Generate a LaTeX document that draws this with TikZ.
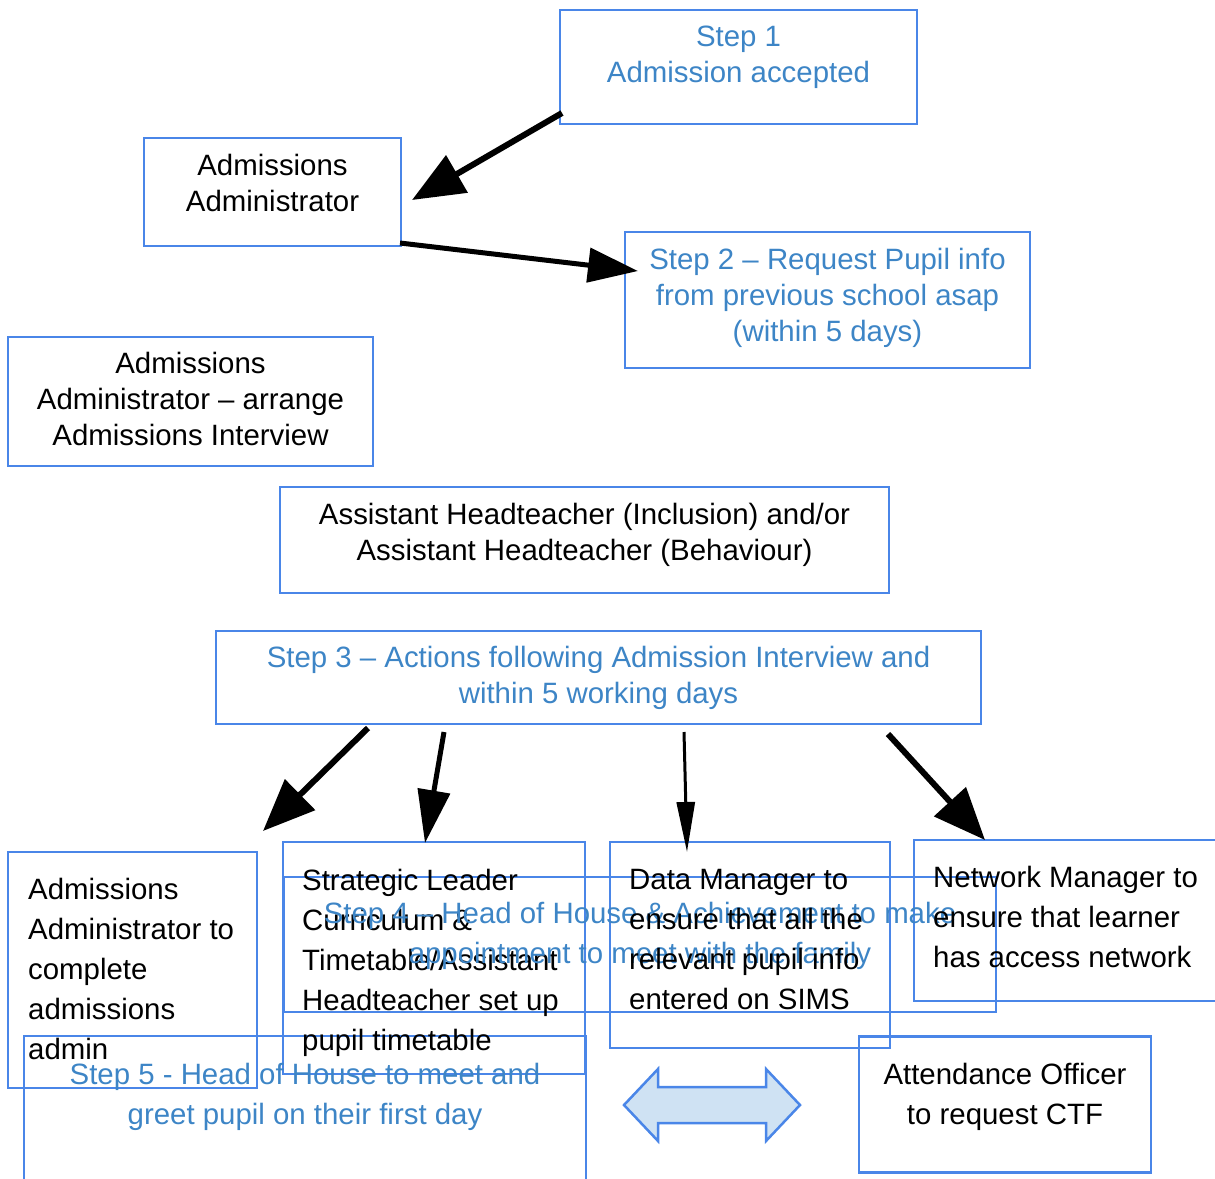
\documentclass[tikz,border=0pt]{standalone}
\usepackage{fontspec}
\setmainfont{Liberation Sans}
\usetikzlibrary{arrows.meta}
\definecolor{bordblue}{RGB}{74,134,232}
\definecolor{txtblue}{RGB}{61,133,198}
\definecolor{fillblue}{RGB}{207,226,243}
\begin{document}
\begin{tikzpicture}[x=1pt,y=-1pt,
  box/.style={draw=bordblue, line width=2.5pt, inner sep=0pt, outer sep=0pt},
  ctxt/.style={font=\fontsize{29.4}{36}\selectfont, inner sep=0pt, align=center, anchor=north},
  ltxt/.style={font=\fontsize{29.4}{40}\selectfont, inner sep=0pt, align=left, anchor=north west},
  wtxt/.style={font=\fontsize{29.4}{40}\selectfont, inner sep=0pt, align=center, anchor=north},
  arr/.style={line width=6pt, -{Triangle[length=52pt,width=42pt]}},
]
\useasboundingbox (0,0) rectangle (1215,1178);

% boxes
\node[box, minimum width=357pt, minimum height=114pt] (b1) at (738.5,67) {};
\node[box, minimum width=257pt, minimum height=108pt] (b2) at (272.5,192) {};
\node[box, minimum width=405pt, minimum height=136pt] (b3) at (827.5,300) {};
\node[box, minimum width=365pt, minimum height=129pt] (b4) at (190.5,401.5) {};
\node[box, minimum width=609pt, minimum height=106pt] (b5) at (584.5,540) {};
\node[box, minimum width=765pt, minimum height=93pt] (b6) at (598.5,677.5) {};
\node[box, minimum width=249pt, minimum height=236pt] (b7) at (132.5,970) {};
\node[box, minimum width=302pt, minimum height=232pt] (b8) at (434,958) {};
\node[box, minimum width=712pt, minimum height=135pt] (b9) at (640,944.5) {};
\node[box, minimum width=280pt, minimum height=206pt] (b10) at (750,945) {};
\node[box, minimum width=320pt, minimum height=161pt] (b11) at (1074,920.5) {};
\node[box, minimum width=562pt, minimum height=160pt] (b12) at (305,1116) {};
\node[box, minimum width=292pt, minimum height=136pt] (b13) at (1005,1104.5) {};

% texts
\node[ctxt, text=txtblue] (t1) at (738.5,26) {Step 1\\Admission accepted};
\node[ctxt] (t2) at (272.5,154) {Admissions\\Administrator};
\node[ctxt, text=txtblue] (t3) at (827.5,248) {Step 2 – Request Pupil info\\from previous school asap\\(within 5 days)};
\node[ctxt] (t4) at (190.5,352) {Admissions\\Administrator – arrange\\Admissions Interview};
\node[ctxt] (t5) at (584.5,503) {Assistant Headteacher (Inclusion) and/or\\Assistant Headteacher (Behaviour)};
\node[ctxt, text=txtblue] (t6) at (598.5,646) {Step 3 – Actions following Admission Interview and\\within 5 working days};
\node[ltxt] (t7) at (28,878) {Admissions\\Administrator to\\complete\\admissions\\admin};
\node[ltxt] (t8) at (302,869) {Strategic Leader\\Curriculum \&\\Timetable/Assistant\\Headteacher set up\\pupil timetable};
\node[wtxt, text=txtblue] (t9) at (640,902) {Step 4 – Head of House \& Achievement to make\\appointment to meet with the family};
\node[ltxt] (t10) at (629,869) {Data Manager to\\ensure that all the\\relevant pupil info\\entered on SIMS};
\node[ltxt] (t11) at (933,866) {Network Manager to\\ensure that learner\\has access network};
\node[wtxt, text=txtblue] (t12) at (305,1063) {Step 5 - Head of House to meet and\\greet pupil on their first day};
\node[wtxt] (t13) at (1005,1063) {Attendance Officer\\to request CTF};

% double arrow
\draw[draw=bordblue, fill=fillblue, line width=2.5pt, line join=miter]
  (624,1105) -- (658,1069) -- (658,1087) -- (766,1087) -- (766,1069) -- (800,1105)
  -- (766,1141) -- (766,1123) -- (658,1123) -- (658,1141) -- cycle;

% arrow endpoints
\coordinate (a1s) at (562,113); \coordinate (a1e) at (412,200);
\coordinate (a2s) at (400,243); \coordinate (a2e) at (638,271);
\coordinate (a3s) at (368,728); \coordinate (a3e) at (263,831);
\coordinate (a4s) at (444,732); \coordinate (a4e) at (425,843);
\coordinate (a5s) at (684,732); \coordinate (a5e) at (687,852);
\coordinate (a6s) at (888,734); \coordinate (a6e) at (985,840);

\draw[arr] (a1s) -- (a1e);
\draw[arr, line width=5pt, -{Triangle[length=50pt,width=34pt]}] (a2s) -- (a2e);
\draw[arr] (a3s) -- (a3e);
\draw[arr, line width=5pt, -{Triangle[length=53pt,width=32pt]}] (a4s) -- (a4e);
\draw[line width=3pt, -{Triangle[length=50pt,width=18pt]}] (a5s) -- (a5e);
\draw[arr] (a6s) -- (a6e);
\end{tikzpicture}
\end{document}
